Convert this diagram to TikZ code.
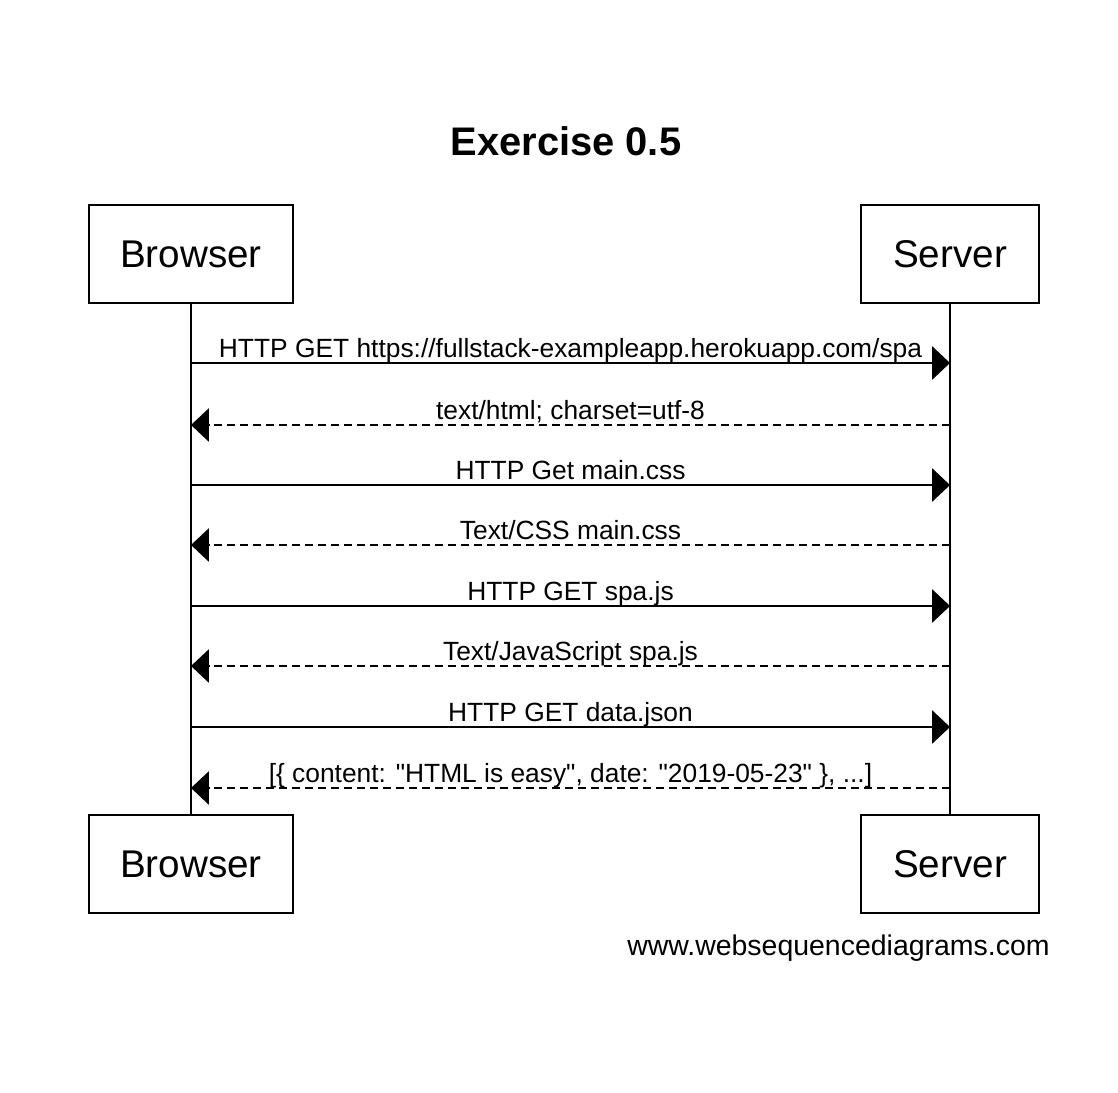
\documentclass[tikz,border=0pt]{standalone}
\usepackage{fontspec}
\setmainfont{Liberation Sans}
\usetikzlibrary{arrows.meta}

\tikzset{
  actor/.style={draw,line width=0.85pt,minimum height=1.96cm,inner sep=0pt,
    font=\fontsize{22}{26}\selectfont},
  msg/.style={line width=0.85pt,-{Triangle[length=10.2pt,width=19pt]}},
  reply/.style={msg,dash pattern=on 4.6pt off 2.8pt},
  lbl/.style={midway,anchor=base,yshift=3.2pt,inner sep=0pt,
    font=\fontsize{15}{18}\selectfont},
}

\begin{document}
\begin{tikzpicture}[x=0.02cm,y=-0.02cm]
        \useasboundingbox (0,0) rectangle (1118,1092);
        %% title
        \node[font=\bfseries\fontsize{22.7}{27}\selectfont] (title) at (566,141) {Exercise 0.5};
        %% actors
        \node[actor,minimum width=4.08cm] (bt) at (191,254) {Browser};
        \node[actor,minimum width=3.56cm] (st) at (950,254) {Server};
        \node[actor,minimum width=4.08cm] (bb) at (191,864) {Browser};
        \node[actor,minimum width=3.56cm] (sb) at (950,864) {Server};
        \draw[line width=0.85pt] (bt) -- (bb);
        \draw[line width=0.85pt] (st) -- (sb);
        %% message points on the lifelines
        \foreach \i/\y in {1/363,2/425,3/485,4/545,5/606,6/666,7/727,8/788} {
            \coordinate (b\i) at (191,\y);
            \coordinate (s\i) at (950,\y);
        }
        %% messages
        \draw[msg] (b1) -- (s1) node[lbl] {HTTP GET https://fullstack-exampleapp.herokuapp.com/spa};
        \draw[reply] (s2) -- (b2) node[lbl] {text/html; charset=utf-8};
        \draw[msg] (b3) -- (s3) node[lbl] {HTTP Get main.css};
        \draw[reply] (s4) -- (b4) node[lbl] {Text/CSS main.css};
        \draw[msg] (b5) -- (s5) node[lbl] {HTTP GET spa.js};
        \draw[reply] (s6) -- (b6) node[lbl] {Text/JavaScript spa.js};
        \draw[msg] (b7) -- (s7) node[lbl] {HTTP GET data.json};
        \draw[reply] (s8) -- (b8) node[lbl] {[\{ content: \textquotedbl HTML is easy\textquotedbl, date: \textquotedbl 2019-05-23\textquotedbl\ \}, ...]};
        %% footer
        \node[anchor=east,inner sep=0pt,font=\fontsize{16.2}{19}\selectfont] (web) at (1050,948) {www.websequencediagrams.com};
\end{tikzpicture}
\end{document}
